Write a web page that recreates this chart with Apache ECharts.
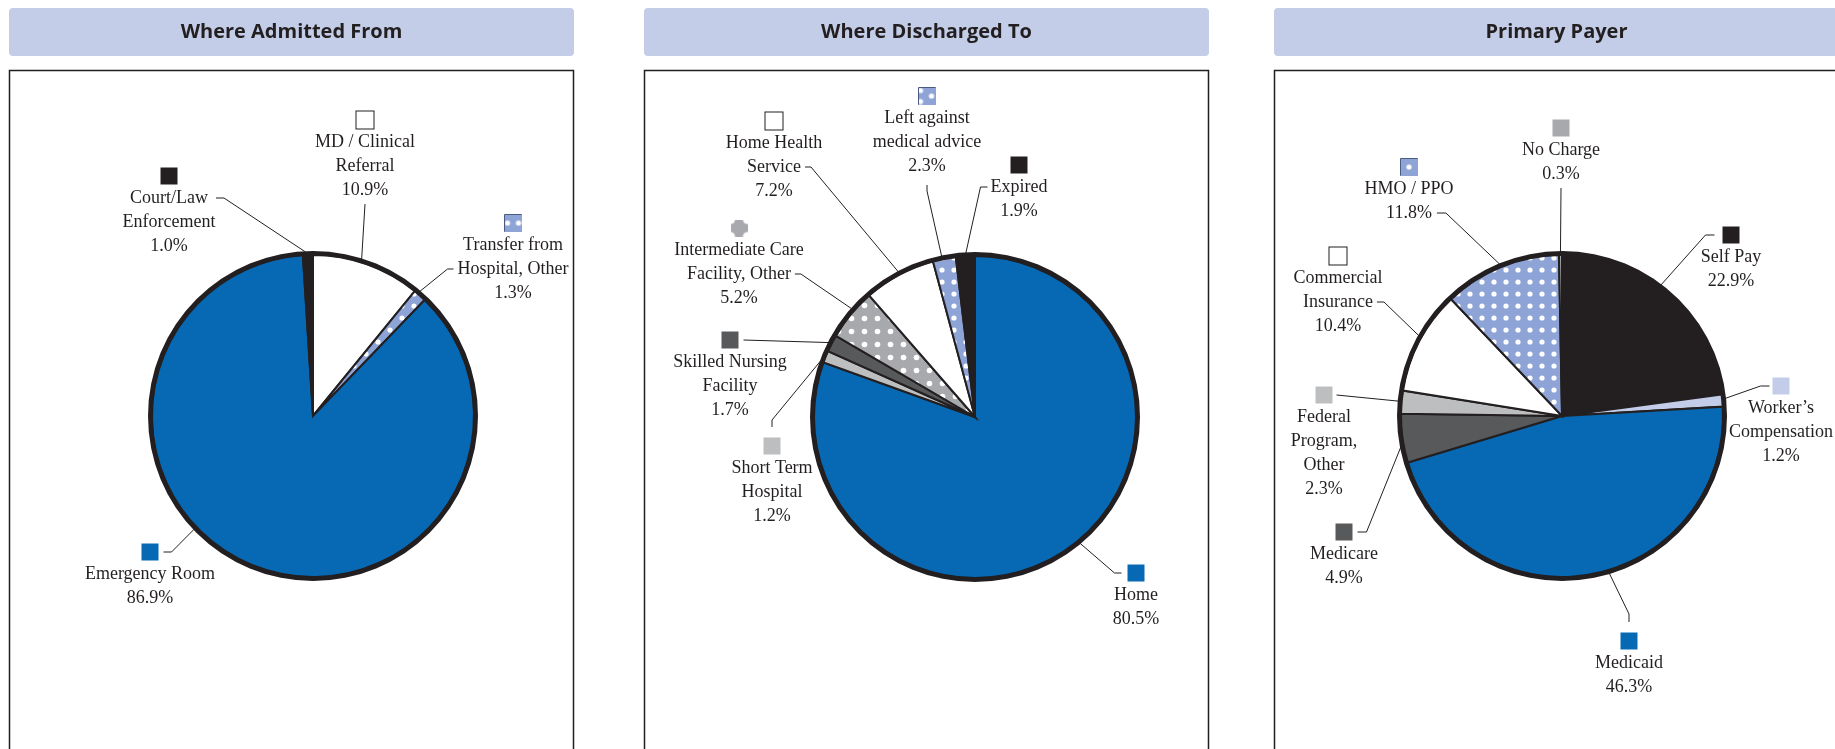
<!DOCTYPE html>
<html><head><meta charset="utf-8">
<script src="https://cdn.jsdelivr.net/npm/echarts@6/dist/echarts.min.js"></script>
<style>html,body{margin:0;padding:0;background:#fff}#c{width:1835px;height:749px}</style>
</head><body><div id="c"></div>
<script>
// ---------- data ----------
const panelTitles = ['Where Admitted From', 'Where Discharged To', 'Primary Payer'];

const admitNames = ['MD / Clinical\nReferral', 'Transfer from\nHospital, Other', 'Emergency Room', 'Court/Law\nEnforcement'];
const admitValues = [10.9, 1.3, 86.9, 1.0];
const admitFills = ['white', 'dotBlue', 'blue', 'black'];

const dischargeNames = ['Home', 'Short Term\nHospital', 'Skilled Nursing\nFacility', 'Intermediate Care\nFacility, Other', 'Home Health\nService', 'Left against\nmedical advice', 'Expired'];
const dischargeValues = [80.5, 1.2, 1.7, 5.2, 7.2, 2.3, 1.9];
const dischargeFills = ['blue', 'light', 'dark', 'dotGray', 'white', 'dotBlue', 'black'];

const payerNames = ['Self Pay', 'Worker\u2019s\nCompensation', 'Medicaid', 'Medicare', 'Federal\nProgram,\nOther', 'Commercial\nInsurance', 'HMO / PPO', 'No Charge'];
const payerValues = [22.9, 1.2, 46.3, 4.9, 2.3, 10.4, 11.8, 0.3];
const payerFills = ['black', 'pale', 'blue', 'dark', 'light', 'white', 'dotBlue', 'mid'];

// ---------- layout ----------
// label anchor: text centre x, top y of the swatch row
const admitLabelPos = [[365, 110], [513, 213], [150, 542], [169, 166]];
const dischargeLabelPos = [[1136, 563], [772, 436], [730, 330], [739, 218], [774, 111], [927, 86], [1019, 155]];
const payerLabelPos = [[1731, 225], [1781, 376], [1629, 631], [1344, 522], [1324, 385], [1338, 246], [1409, 157], [1561, 118]];
// leader spec: [fraction within slice, side of label, row (0 = swatch), elbow length, gap]
const admitLeaders = [[0.44, 'bottom', 0, 0, 2], [0.3, 'left', 2, 6, 4], [0.584, 'right', 0, 8, 5], [0.3, 'right', 1, 8, 8]];
const dischargeLeaders = [[0.484, 'left', 0, 7, 6], [0.1, 'top', 0, 7, 9], [0.47, 'right', 0, 0, 5], [0.59, 'right', 2, 6, 4], [0.51, 'right', 2, 6, 4], [0.41, 'bottom', 0, 6, 7], [0.53, 'left', 1, 7, 3]];
const payerLeaders = [[0.45, 'left', 0, 9, 8], [0.35, 'left', 0, 9, 3], [0.46, 'top', 0, 8, 9], [0.34, 'right', 0, 9, 5], [0.53, 'right', 0, 0, 4], [0.54, 'right', 2, 7, 4], [0.5, 'right', 2, 9, 5], [0.5, 'bottom', 0, 0, 2]];

const pieCenters = [[313, 416], [975, 417], [1562, 416]];
const pieR = 161;
const panelX = [9, 644, 1274];
const panelW = [565, 565, 580];

// ---------- styles ----------
const INK = '#231f20';
const LABEL_FONT = '18px "Liberation Serif"';
const COLORS = {
  blue: '#0768b3', black: '#231f20', white: '#ffffff', dark: '#58595b',
  light: '#bcbec0', mid: '#a7a9ac', pale: '#c3cde9', dotBlue: '#8ea4d7', dotGray: '#a7a9ac'
};

const measureCtx = document.createElement('canvas').getContext('2d');
function textW(s) { measureCtx.font = LABEL_FONT; return measureCtx.measureText(s).width; }

function dotPattern(bg, step, r) {
  const c = document.createElement('canvas');
  c.width = step; c.height = step;
  const g = c.getContext('2d');
  g.fillStyle = bg; g.fillRect(0, 0, step, step);
  g.fillStyle = '#fff';
  g.beginPath(); g.arc(step / 2, step / 2, r, 0, Math.PI * 2); g.fill();
  return c;
}
function swatchCanvas(bg, dots, r) {
  const c = document.createElement('canvas');
  c.width = 17; c.height = 17;
  const g = c.getContext('2d');
  g.fillStyle = bg; g.fillRect(0, 0, 17, 17);
  g.fillStyle = '#fff';
  dots.forEach(d => { g.beginPath(); g.arc(d[0], d[1], r, 0, Math.PI * 2); g.fill(); });
  return c;
}
const PATTERNS = {
  dotBlue: dotPattern(COLORS.dotBlue, 12, 2.6),
  dotGray: dotPattern(COLORS.dotGray, 13, 2.8)
};

function sliceColor(fill) {
  if (fill === 'dotBlue' || fill === 'dotGray') return { image: PATTERNS[fill], repeat: 'repeat' };
  return COLORS[fill];
}
function swatchStyle(fill, name) {
  const base = { width: 17, height: 17, lineHeight: 20 };
  if (fill === 'white') return Object.assign(base, { backgroundColor: '#fff', borderColor: INK, borderWidth: 1 });
  if (fill === 'dotGray') return Object.assign(base, { backgroundColor: { image: swatchCanvas(COLORS.dotGray, [[0, 0], [17, 0], [0, 17], [17, 17]], 4.6) } });
  if (fill === 'dotBlue') {
    let dots = [[8.5, 8.5]];
    if (name.indexOf('Transfer') === 0) dots = [[3, 8.5], [14, 8.5]];
    if (name.indexOf('Left') === 0) dots = [[2, 3], [2, 14], [13, 8.5]];
    return Object.assign(base, { backgroundColor: { image: swatchCanvas(COLORS.dotBlue, dots, 2.6) }, borderColor: '#4a5a80', borderWidth: 1 });
  }
  return Object.assign(base, { backgroundColor: COLORS[fill] });
}

function rowsOf(names, values, i) {
  const r = names[i].split('\n');
  r.push(values[i].toFixed(1) + '%');
  return r;
}

function buildData(names, values, fills) {
  return names.map((n, i) => {
    const lines = rowsOf(names, values, i).map(s => '{t|' + s + '}');
    return {
      name: n.replace(/\n/g, ' '),
      value: values[i],
      itemStyle: { color: sliceColor(fills[i]) },
      label: {
        formatter: '{sw|}\n' + lines.join('\n'),
        rich: { sw: swatchStyle(fills[i], n), t: { fontFamily: 'Liberation Serif', fontSize: 18, lineHeight: 24, color: INK, align: 'center' } }
      }
    };
  });
}

function leaderPoints(idx, names, values, labelPos, leaders, i) {
  const total = values.reduce((a, b) => a + b, 0);
  let start = 0;
  for (let j = 0; j < i; j++) start += values[j] / total * 360;
  const span = values[i] / total * 360;
  const sp = leaders[i];
  const a = (start + sp[0] * span) * Math.PI / 180;
  const c = pieCenters[idx];
  const rr = pieR + 3;
  const p0 = [c[0] + rr * Math.sin(a), c[1] - rr * Math.cos(a)];

  const pos = labelPos[i];
  const rows = rowsOf(names, values, i);
  const cx = pos[0], top = pos[1];
  const row = sp[2], h = sp[3], gap = sp[4];
  const rowY = row === 0 ? top + 10 : top + 20 + (row - 1) * 24 + 12;
  const rowW = row === 0 ? 17 : textW(rows[row - 1]);
  let p2, p1;
  if (sp[1] === 'left') { p2 = [cx - rowW / 2 - gap, rowY]; p1 = [p2[0] - h, rowY]; }
  else if (sp[1] === 'right') { p2 = [cx + rowW / 2 + gap, rowY]; p1 = [p2[0] + h, rowY]; }
  else if (sp[1] === 'bottom') { p2 = [cx, top + 20 + rows.length * 24 + gap]; p1 = [cx, p2[1] + h]; }
  else { p2 = [cx, top - gap]; p1 = [cx, p2[1] - h]; }
  return [p0, p1, p2];
}

function pieSeries(idx, names, values, fills, labelPos, leaders) {
  return {
    type: 'pie',
    center: pieCenters[idx],
    radius: [0, pieR],
    startAngle: 90,
    clockwise: true,
    animation: false,
    avoidLabelOverlap: false,
    silent: true,
    itemStyle: { borderColor: INK, borderWidth: 2, borderJoin: 'miter' },
    label: { show: true, position: 'outside', color: INK, fontFamily: 'Liberation Serif', fontSize: 18, lineHeight: 24, align: 'center' },
    labelLine: { show: true, length: 10, length2: 8, smooth: false, minTurnAngle: 0, lineStyle: { color: INK, width: 1 } },
    labelLayout: function (p) {
      const pos = labelPos[p.dataIndex];
      return {
        x: pos[0], y: pos[1], align: 'center', verticalAlign: 'top',
        labelLinePoints: leaderPoints(idx, names, values, labelPos, leaders, p.dataIndex)
      };
    },
    emphasis: { disabled: true },
    data: buildData(names, values, fills)
  };
}
function ringSeries(idx) {
  return {
    type: 'pie', center: pieCenters[idx], radius: [pieR - 0.5, pieR + 4], silent: true, animation: false,
    label: { show: false }, labelLine: { show: false }, emphasis: { disabled: true },
    itemStyle: { color: INK, borderWidth: 0 }, data: [{ value: 1, name: 'ring' }], z: 3
  };
}

const graphics = [];
panelTitles.forEach((t, i) => {
  graphics.push({ type: 'rect', silent: true, z: 0, shape: { x: panelX[i], y: 8, width: panelW[i], height: 48, r: 4 }, style: { fill: '#c3cde8' } });
  graphics.push({ type: 'rect', silent: true, z: 0, shape: { x: panelX[i] + 0.5, y: 70.5, width: panelW[i] - 1, height: 720 }, style: { fill: 'none', stroke: INK, lineWidth: 1.5 } });
  graphics.push({ type: 'text', silent: true, z: 1, x: panelX[i] + panelW[Math.min(i, 1)] / 2, y: 32,
    style: { text: t, fill: INK, font: 'bold 20px "Open Sans"', textAlign: 'center', textVerticalAlign: 'middle' } });
});

const chart = echarts.init(document.getElementById('c'), null, { renderer: 'canvas' });
chart.setOption({
  animation: false,
  graphic: graphics,
  series: [
    pieSeries(0, admitNames, admitValues, admitFills, admitLabelPos, admitLeaders),
    pieSeries(1, dischargeNames, dischargeValues, dischargeFills, dischargeLabelPos, dischargeLeaders),
    pieSeries(2, payerNames, payerValues, payerFills, payerLabelPos, payerLeaders),
    ringSeries(0), ringSeries(1), ringSeries(2)
  ]
});
</script></body></html>
